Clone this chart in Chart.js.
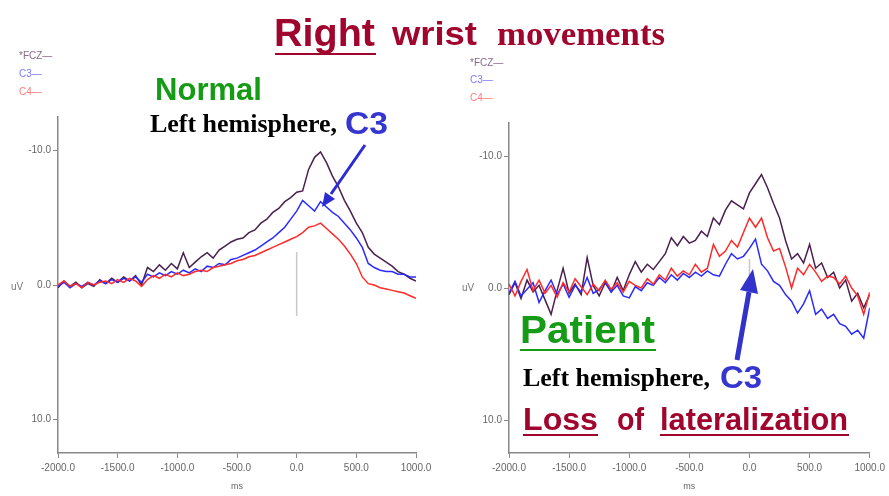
<!DOCTYPE html>
<html>
<head>
<meta charset="utf-8">
<script src="https://cdn.jsdelivr.net/npm/chart.js@4"></script>
<style>
  body { margin: 0; background: #fff; width: 889px; height: 496px; overflow: hidden; position: relative; }
  .box { position: absolute; top: 100px; height: 396px; }
  #ov { position: absolute; left: 0; top: 0; pointer-events: none; }
  .sans { font-family: 'Liberation Sans', Arial, sans-serif; font-weight: bold; }
  .serif { font-family: 'Liberation Serif', 'Times New Roman', serif; font-weight: bold; }
  .small { font-family: 'Liberation Sans Narrow', 'Liberation Sans', Arial, sans-serif; font-size: 10px; }
</style>
</head>
<body>
<div class="box" style="left:0;width:445px"><canvas id="normal" width="445" height="396"></canvas></div>
<div class="box" style="left:445px;width:444px"><canvas id="patient" width="444" height="396"></canvas></div>

<svg id="ov" width="889" height="496">
  <!-- title -->
  <text class="sans" x="274" y="46" font-size="39" fill="#a0052d" textLength="101" lengthAdjust="spacingAndGlyphs">Right</text>
  <line x1="275" y1="54" x2="376" y2="54" stroke="#a0052d" stroke-width="2"/>
  <text class="sans" x="392" y="45" font-size="34" fill="#a0052d" textLength="85" lengthAdjust="spacingAndGlyphs">wrist</text>
  <text class="serif" x="497" y="45" font-size="34" fill="#a0052d" textLength="168" lengthAdjust="spacingAndGlyphs">movements</text>

  <!-- legends -->
  <text class="small" x="19" y="59" fill="#8a6a8a">*FCZ—</text>
  <text class="small" x="19" y="77" fill="#7a7aff">C3—</text>
  <text class="small" x="19" y="95" fill="#ff7a7a">C4—</text>
  <text class="small" x="470" y="66" fill="#8a6a8a">*FCZ—</text>
  <text class="small" x="470" y="83" fill="#7a7aff">C3—</text>
  <text class="small" x="470" y="101" fill="#ff7a7a">C4—</text>

  <!-- y unit -->
  <text class="small" x="11" y="290" fill="#777">uV</text>
  <text class="small" x="462" y="291" fill="#777">uV</text>

  <!-- left notes -->
  <text class="sans" x="155" y="100" font-size="31" fill="#169b16" textLength="107" lengthAdjust="spacingAndGlyphs">Normal</text>
  <text class="serif" x="150" y="132" font-size="26" fill="#000" textLength="187" lengthAdjust="spacingAndGlyphs">Left hemisphere,</text>
  <text class="sans" x="345" y="134" font-size="31" fill="#3535d0" textLength="43" lengthAdjust="spacingAndGlyphs">C3</text>
  <line x1="365" y1="145" x2="331" y2="194" stroke="#2b2bd6" stroke-width="3"/>
  <polygon points="322,207 335,199 325,192" fill="#2b2bd6"/>

  <!-- right notes -->
  <text class="sans" x="520" y="343" font-size="39" fill="#169b16" textLength="135" lengthAdjust="spacingAndGlyphs">Patient</text>
  <line x1="520" y1="350" x2="656" y2="350" stroke="#169b16" stroke-width="2"/>
  <text class="serif" x="523" y="386" font-size="26" fill="#000" textLength="187" lengthAdjust="spacingAndGlyphs">Left hemisphere,</text>
  <text class="sans" x="720" y="388" font-size="31" fill="#3535d0" textLength="42" lengthAdjust="spacingAndGlyphs">C3</text>
  <text class="sans" x="523" y="430" font-size="31" fill="#a0052d" textLength="75" lengthAdjust="spacingAndGlyphs">Loss</text>
  <line x1="523" y1="435" x2="598" y2="435" stroke="#a0052d" stroke-width="2"/>
  <text class="sans" x="617" y="430" font-size="31" fill="#a0052d" textLength="27" lengthAdjust="spacingAndGlyphs">of</text>
  <text class="sans" x="660" y="430" font-size="31" fill="#a0052d" textLength="188" lengthAdjust="spacingAndGlyphs">lateralization</text>
  <line x1="660" y1="435" x2="849" y2="435" stroke="#a0052d" stroke-width="2"/>
  <line x1="737" y1="360" x2="749" y2="292" stroke="#3333cc" stroke-width="5"/>
  <polygon points="753,269 758,294 740,290" fill="#3333cc"/>
</svg>

<script>
// time points (ms)
const times = [-2000,-1950,-1900,-1850,-1800,-1750,-1700,-1650,-1600,-1550,
  -1500,-1450,-1400,-1350,-1300,-1250,-1200,-1150,-1100,-1050,
  -1000,-950,-900,-850,-800,-750,-700,-650,-600,-550,
  -500,-450,-400,-350,-300,-250,-200,-150,-100,-50,
  0,50,100,150,200,250,300,350,400,450,
  500,550,600,650,700,750,800,850,900,950,1000];

const xTicks = [-2000, -1500, -1000, -500, 0, 500, 1000];
const yTicks = [-10, 0, 10];

// Normal subject (uV, negative up)
const normalFCZ = [0.2,-0.3,0.1,-0.2,0.2,-0.1,0.1,-0.4,-0.1,-0.5,
  -0.2,-0.6,-0.3,-0.7,0.0,-1.3,-1.0,-1.5,-1.1,-1.6,
  -1.2,-2.4,-1.3,-1.7,-2.1,-2.4,-2.0,-2.6,-2.9,-3.2,
  -3.4,-3.5,-3.9,-4.1,-4.6,-4.9,-5.4,-5.7,-6.2,-6.5,
  -6.9,-7.0,-8.6,-9.5,-9.9,-9.1,-8.1,-7.3,-6.3,-5.5,
  -4.6,-3.9,-2.8,-2.3,-2.0,-1.7,-1.4,-1.0,-0.8,-0.5,-0.3];
const normalC3 = [0.1,-0.2,0.2,-0.1,0.1,-0.2,0.0,-0.3,-0.1,-0.4,
  -0.2,-0.5,-0.3,-0.6,-0.2,-0.8,-0.6,-0.9,-0.7,-1.0,
  -0.8,-1.1,-0.9,-1.2,-1.0,-1.4,-1.3,-1.6,-1.5,-1.9,
  -2.0,-2.2,-2.4,-2.6,-2.9,-3.2,-3.5,-3.9,-4.3,-4.9,
  -5.5,-6.3,-5.9,-5.5,-6.2,-5.8,-5.4,-5.1,-4.6,-4.1,
  -3.5,-2.8,-1.6,-1.3,-1.1,-1.0,-1.0,-0.8,-0.8,-0.6,-0.6];
const normalC4 = [0.0,-0.3,0.1,-0.1,0.2,-0.2,0.0,-0.2,-0.3,-0.1,
  -0.4,-0.2,-0.5,-0.3,0.1,-0.4,-0.7,-0.5,-0.8,-0.6,
  -0.9,-0.7,-0.8,-1.0,-1.1,-1.0,-1.3,-1.4,-1.5,-1.6,
  -1.8,-1.9,-2.1,-2.2,-2.4,-2.6,-2.8,-3.0,-3.2,-3.4,
  -3.6,-3.9,-4.3,-4.4,-4.6,-4.2,-3.8,-3.4,-2.9,-2.3,
  -1.6,-0.6,-0.1,0.0,0.2,0.3,0.4,0.5,0.6,0.8,1.0];
const normalMarker = [-2.45, 2.3];

// Patient
const patientFCZ = [0.5,-0.4,0.8,-0.6,0.3,-0.2,0.9,2.0,0.2,-1.5,
  0.4,-0.3,0.5,-2.3,-0.2,0.6,-0.4,0.3,-0.8,0.2,
  -1.0,-2.0,-1.2,-1.8,-1.4,-2.0,-2.6,-3.8,-3.2,-3.9,
  -3.4,-3.6,-4.3,-3.9,-5.3,-4.8,-5.9,-6.6,-6.3,-6.0,
  -7.2,-7.9,-8.6,-7.6,-6.4,-5.3,-3.6,-2.2,-2.6,-1.9,
  -3.3,-1.5,-1.9,-0.8,-1.2,0.0,-0.6,1.0,0.4,1.5,0.5];
const patientC3 = [0.4,-0.5,0.6,0.1,-0.4,1.1,0.2,-0.6,0.5,-0.3,
  0.7,-0.2,0.3,-0.8,0.4,0.1,-0.5,0.3,-0.2,0.6,
  0.75,-0.1,0.2,-0.4,-0.2,-0.8,-0.4,-1.0,-0.6,-1.1,
  -0.8,-1.2,-0.9,-1.3,-1.0,-0.9,-1.8,-2.6,-2.2,-2.4,
  -3.0,-3.7,-1.8,-1.3,-0.5,-0.2,0.5,1.0,1.9,1.2,
  0.2,2.0,1.6,2.3,2.0,2.7,2.9,3.5,3.2,3.8,1.5];
const patientC4 = [-0.3,0.6,-0.5,-1.4,0.2,-0.6,0.4,-0.2,0.7,-0.4,
  0.3,-0.7,-0.1,0.5,-0.3,0.2,-0.6,0.1,-0.4,0.3,
  -0.5,-0.2,0.0,-0.7,-0.3,-1.0,-0.6,-1.5,-0.9,-1.3,
  -1.0,-1.8,-1.2,-1.5,-3.3,-2.4,-2.8,-3.6,-3.1,-4.2,
  -5.3,-4.6,-5.3,-3.8,-2.8,-3.0,-1.6,0.0,-1.5,-1.0,
  -1.8,-1.2,-0.5,-0.9,-0.8,-0.3,-0.9,0.0,0.6,2.0,0.3];
const patientMarker = [-2.2, -0.8];

const tickFont = { family: "'Liberation Sans Narrow', 'Liberation Sans', Arial, sans-serif", size: 10 };

function pts(vals) {
  return times.map((t, i) => ({ x: t, y: vals[i] }));
}

function line(data, color) {
  return { data: data, borderColor: color, borderWidth: 1.5, pointRadius: 0, tension: 0, fill: false };
}

function makeChart(id, fcz, c3, c4, marker, yWidth, padTop, padRight) {
  new Chart(document.getElementById(id), {
    type: 'line',
    data: {
      datasets: [
        line(marker.map(v => ({ x: 0, y: v })), '#c8c8c8'),
        line(pts(c4), '#ff2a2a'),
        line(pts(c3), '#2a2aff'),
        line(pts(fcz), '#4a1f4f')
      ]
    },
    options: {
      responsive: false,
      animation: false,
      layout: { padding: { top: padTop, right: padRight, left: 0, bottom: 4 } },
      plugins: { legend: { display: false }, tooltip: { enabled: false } },
      scales: {
        x: {
          type: 'linear', min: -2000, max: 1000,
          afterBuildTicks: s => { s.ticks = xTicks.map(v => ({ value: v })); },
          afterFit: s => { s.height = 39; },
          grid: { drawOnChartArea: false, color: '#888', tickLength: 5 },
          border: { color: '#888', width: 1.5 },
          ticks: { color: '#666', font: tickFont, padding: 4, maxRotation: 0, callback: v => v.toFixed(1) },
          title: { display: true, text: 'ms', color: '#666', font: { family: tickFont.family, size: 9 }, padding: 0 }
        },
        y: {
          type: 'linear', min: -12.5, max: 12.5, reverse: true,
          afterBuildTicks: s => { s.ticks = yTicks.map(v => ({ value: v })); },
          afterFit: s => { s.width = yWidth; },
          grid: { drawOnChartArea: false, color: '#888', tickLength: 5 },
          border: { color: '#888', width: 1.5 },
          ticks: { color: '#666', font: tickFont, padding: 2, callback: v => v.toFixed(1) }
        }
      }
    }
  });
}

makeChart('normal', normalFCZ, normalC3, normalC4, normalMarker, 58, 17, 29);
makeChart('patient', patientFCZ, patientC3, patientC4, patientMarker, 64, 23, 19);
</script>
</body>
</html>
